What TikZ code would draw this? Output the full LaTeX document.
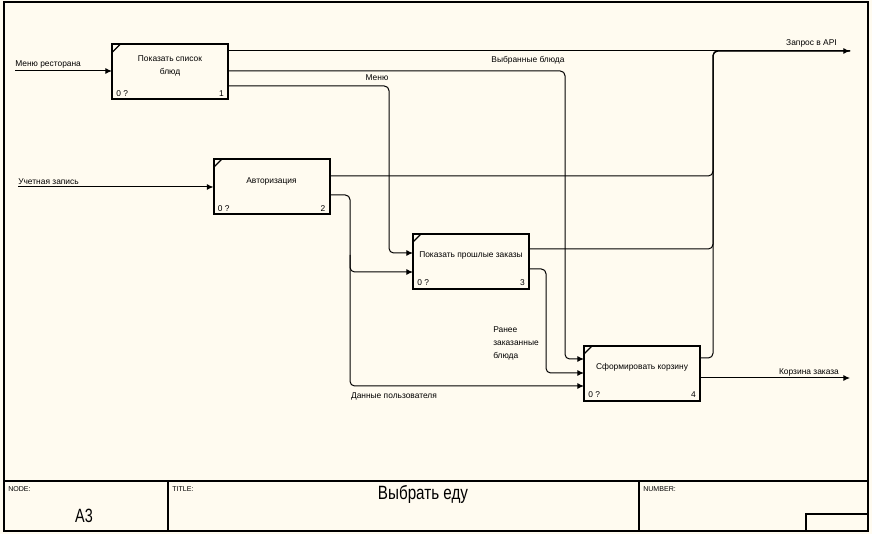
\documentclass[tikz,border=0pt]{standalone}
\usepackage{fontspec}
\setmainfont{Liberation Sans}
\usetikzlibrary{arrows.meta,calc}
\definecolor{paper}{RGB}{255,251,240}
\tikzset{
 box/.style={draw, line width=1.5pt, minimum width=87pt, minimum height=41.25pt, inner sep=0pt, outer sep=0pt},
 lbl/.style={font=\fontsize{6.3}{9.75}\selectfont, inner sep=0pt},
 small/.style={font=\fontsize{5.3}{6}\selectfont, inner sep=0pt},
 big/.style={font=\fontsize{12}{14}\selectfont, inner sep=0pt},
 arr/.style={line width=0.75pt, -{Latex[length=5pt,width=4.5pt]}, rounded corners=3.5pt},
 ln/.style={line width=0.75pt, rounded corners=3.5pt},
 frm/.style={line width=0.8pt},
 corner/.style={line width=1pt},
}
\begin{document}
\begin{tikzpicture}[x=0.75pt,y=-0.75pt]
\fill[paper] (0,0) rectangle (872,534);
\useasboundingbox (0,0) rectangle (872,534);

% frame and title block
\draw[frm] (4,2) rectangle (868,531);
\draw[frm] (4,481) -- (868,481);
\draw[frm] (168,481) -- (168,531);
\draw[frm] (639,481) -- (639,531);
\draw[frm] (806,514) rectangle (868,531);
\node[small, anchor=west] (tnode) at (8,489) {NODE:};
\node[small, anchor=west] (ttitle) at (172,489) {TITLE:};
\node[small, anchor=west] (tnum) at (643,489) {NUMBER:};
\node[big] (tA3) at (84,516) {\scalebox{0.9}[1.2]{A3}};
\node[big] (tname) at (423,494) {\scalebox{0.95}[1.2]{Выбрать еду}};

% boxes
\node[box] (b1) at (170,72) {};
\node[box] (b2) at (271.5,187) {};
\node[box] (b3) at (471,261.5) {};
\node[box] (b4) at (642,373.5) {};
\foreach \b/\t/\n in {b1/{Показать список\\блюд}/1, b2/Авторизация/2, b3/Показать прошлые заказы/3, b4/Сформировать корзину/4}{
  \draw[corner] ($(\b.north west)+(0,8)$) -- ($(\b.north west)+(8,0)$);
  \node[lbl, align=center] at ($(\b.center)+(0,-6)$) {\t};
  \node[lbl, anchor=south west] at ($(\b.south west)+(4,-3)$) {0 ?};
  \node[lbl, anchor=south east] at ($(\b.south east)+(-4,-3)$) {\n};
}

% named free ends
\coordinate (in1) at (15,71);
\coordinate (in2) at (18,187);
\coordinate (api) at (850,51);
\coordinate (cart) at (850,378);
\coordinate (jx) at (713,51);

% inputs
\draw[arr] (in1) -- (b1.west |- in1);
\node[lbl, anchor=south west] at ($(in1)+(0,-2)$) {Меню ресторана};
\draw[arr] (in2) -- (b2.west |- in2);
\node[lbl, anchor=south west] at ($(in2)+(0,-2)$) {Учетная запись};

% Запрос в API
\draw[arr] (b1.east |- api) -- (api);
\node[lbl, anchor=south east] at ($(api)+(-13,-3)$) {Запрос в API};
\draw[ln] (b2.east |- 0,176) -- (jx |- 0,176) -- (jx) -- (api);
\draw[ln] (b3.east |- 0,249) -- (jx |- 0,249) -- (jx) -- (api);
\draw[ln] (b4.east |- 0,358) -- (jx |- 0,358) -- (jx) -- (api);

% Выбранные блюда
\draw[arr] (b1.east |- 0,71) -- (565,71) -- (565,359) -- (b4.west |- 0,359);
\node[lbl] at (528,60) {Выбранные блюда};

% Меню
\draw[arr] (b1.east |- 0,86) -- (389,86) -- (389,253) -- (b3.west |- 0,253);
\node[lbl] at (377,78) {Меню};

% Данные пользователя
\draw[arr] (b2.east |- 0,195) -- (350,195) -- (350,386) -- (b4.west |- 0,386);
\draw[arr] (350,255) -- (350,272) -- (b3.west |- 0,272);
\node[lbl] at (394,396) {Данные пользователя};

% Ранее заказанные блюда
\draw[arr] (b3.east |- 0,269) -- (546,269) -- (546,373) -- (b4.west |- 0,373);
\node[lbl, anchor=north west, align=left] at (493,326) {Ранее\\заказанные\\блюда};

% Корзина заказа
\draw[arr] (b4.east |- cart) -- (cart);
\node[lbl] at (809,372) {Корзина заказа};
\end{tikzpicture}
\end{document}
